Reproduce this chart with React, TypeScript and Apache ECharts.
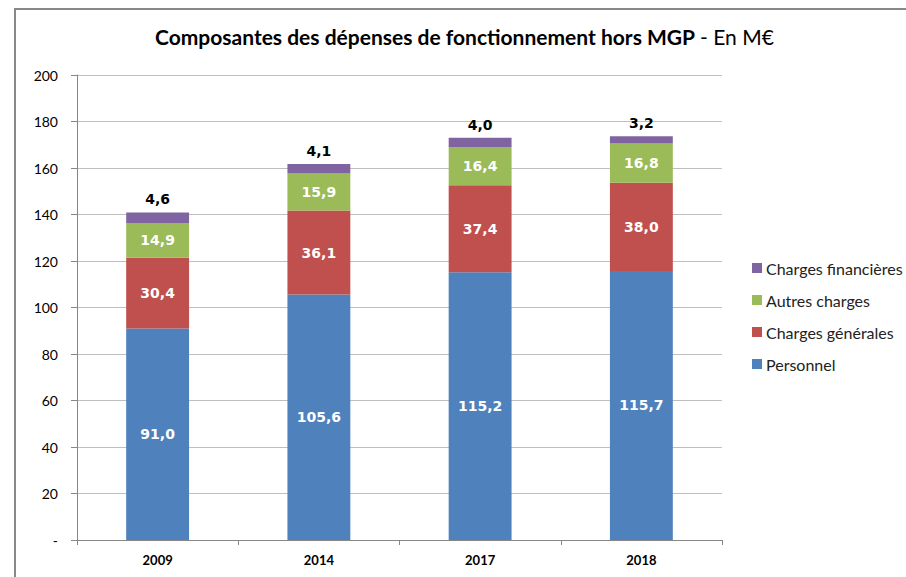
import React, { useEffect, useRef } from "react";
import * as echarts from "echarts";

const categories = ["2009", "2014", "2017", "2018"];
const personnel = [91.0, 105.6, 115.2, 115.7];
const chargesGenerales = [30.4, 36.1, 37.4, 38.0];
const autresCharges = [14.9, 15.9, 16.4, 16.8];
const chargesFinancieres = [4.6, 4.1, 4.0, 3.2];
const yTicks = { min: 0, max: 200, interval: 20 };

const fmt = (v: number) => v.toFixed(1).replace(".", ",");

export default function App() {
  const ref = useRef<HTMLDivElement>(null);
  useEffect(() => {
    if (!ref.current) return;
    const chart = echarts.init(ref.current, undefined, { renderer: "svg" });
    const insideLabel = {
      show: true,
      position: "inside",
      color: "#ffffff",
      fontFamily: "DejaVu Sans",
      fontWeight: "bold",
      fontSize: 14,
      formatter: (p: any) => fmt(p.value),
    };
    const mk = (name: string, data: number[], color: string, label: any) => ({
      name,
      type: "bar",
      stack: "total",
      barWidth: "39%",
      data,
      itemStyle: { color },
      label,
    });
    chart.setOption({
      animation: false,
      backgroundColor: "#ffffff",
      title: {
        text: "{b|Composantes des dépenses de fonctionnement hors MGP} {n|- En M€}",
        left: 155,
        top: 26,
        padding: 0,
        textStyle: {
          rich: {
            b: { fontFamily: "Lato", fontWeight: "bold", fontSize: 21, color: "#000" },
            n: { fontFamily: "Lato", fontWeight: "normal", fontSize: 21, color: "#000" },
          },
        },
      },
      graphic: [
        {
          type: "rect",
          shape: { x: 15, y: 9, width: 1000, height: 1000 },
          style: { fill: "none", stroke: "#888888", lineWidth: 2 },
          silent: true,
        },
      ],
      legend: {
        orient: "vertical",
        left: 752,
        top: 260,
        padding: 0,
        itemWidth: 10,
        itemHeight: 10,
        itemGap: 16,
        icon: "rect",
        data: ["Charges financières", "Autres charges", "Charges générales", "Personnel"],
        textStyle: { fontFamily: "Lato", fontSize: 16, lineHeight: 16, color: "#222", padding: [0, 0, 0, -1] },
      },
      grid: { left: 77, right: 184, top: 75, bottom: 37, containLabel: false },
      xAxis: {
        type: "category",
        data: categories,
        axisLine: { lineStyle: { color: "#868686", width: 1 } },
        axisTick: { show: true, length: 5, lineStyle: { color: "#868686" } },
        axisLabel: {
          margin: 13,
          fontFamily: "Lato",
          fontWeight: "bold",
          fontSize: 13,
          color: "#000",
        },
      },
      yAxis: {
        type: "value",
        min: yTicks.min,
        max: yTicks.max,
        interval: yTicks.interval,
        axisLine: { show: true, lineStyle: { color: "#868686", width: 1 } },
        axisTick: { show: true, length: 6, lineStyle: { color: "#868686" } },
        splitLine: { show: true, lineStyle: { color: "#BFBFBF", width: 1 } },
        axisLabel: {
          margin: 19,
          fontFamily: "Lato",
          fontSize: 14,
          color: "#000",
          formatter: (v: number) => (v === 0 ? "-" : String(v)),
        },
      },
      series: [
        mk("Personnel", personnel, "#4F81BD", insideLabel),
        mk("Charges générales", chargesGenerales, "#C0504D", insideLabel),
        mk("Autres charges", autresCharges, "#9BBB59", insideLabel),
        mk("Charges financières", chargesFinancieres, "#8064A2", {
          show: true,
          position: "top",
          distance: 6,
          color: "#000000",
          fontFamily: "DejaVu Sans",
          fontWeight: "bold",
          fontSize: 14,
          formatter: (p: any) => fmt(p.value),
        }),
      ],
    });
    return () => chart.dispose();
  }, []);
  return (
    <div
      ref={ref}
      style={{ position: "fixed", left: 0, top: 0, width: 906, height: 577 }}
    />
  );
}
